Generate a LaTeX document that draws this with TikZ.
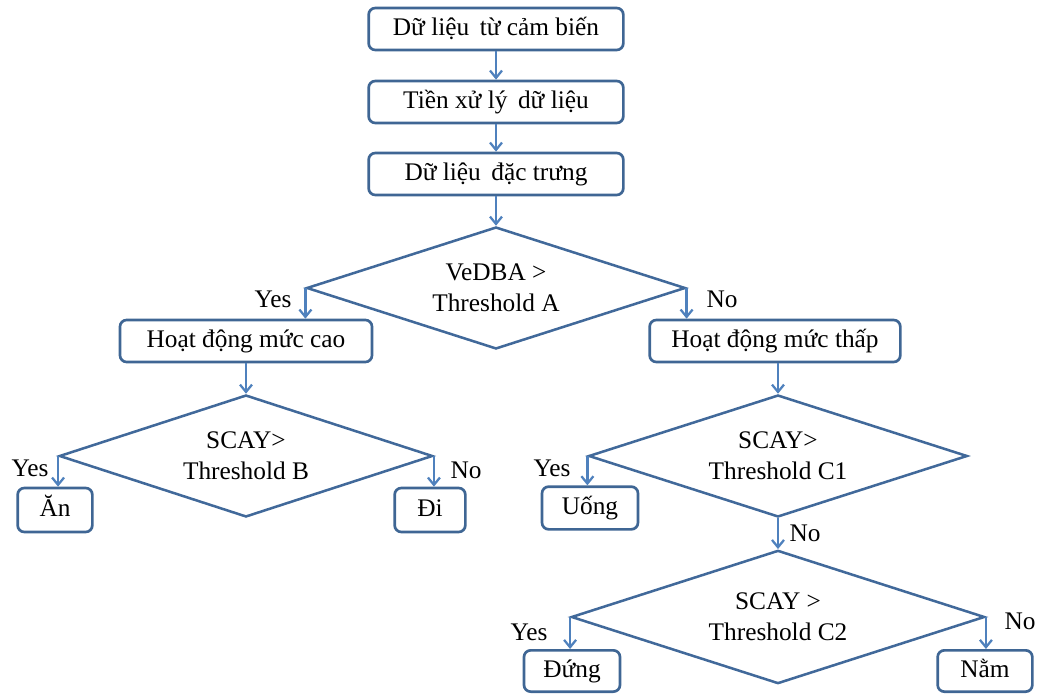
\documentclass[tikz,border=0pt]{standalone}
\usepackage{fontspec}
\setmainfont{Liberation Serif}
\usetikzlibrary{
  positioning,
  shapes.geometric,
  arrows.meta,
}
\definecolor{border}{HTML}{3F6694}
\definecolor{lineCol}{HTML}{41699A}
\definecolor{arrowCol}{HTML}{4F81BD}
\tikzset{
  stepbox/.style={
    rectangle, rounded corners=5pt, draw=border, line width=2pt,
    minimum height=31.5pt, align=center, inner sep=0pt,
    text height=13pt, text depth=3pt,
    font=\fontsize{19}{22}\selectfont,
  },
  decision/.style={
    diamond, aspect=3, draw=lineCol, line width=1.9pt, inner sep=0pt,
    align=center, font=\fontsize{19}{23}\selectfont,
  },
  arrow/.style={-{Straight Barb[length=5.5pt,width=9pt]}, arrowCol, line width=1.7pt},
  label/.style={font=\fontsize{19}{22}\selectfont, inner sep=0pt},
}

\begin{document}
\begin{tikzpicture}[x=0.75pt, y=-0.75pt]

  \useasboundingbox (0,0) rectangle (1043,695);

  % Steps
  \node[stepbox, minimum width=191pt] (s1) at (496, 29) {Dữ liệu\, từ cảm biến};
  \node[stepbox, minimum width=191pt] (s2) at (496, 102) {Tiền xử lý\, dữ liệu};
  \node[stepbox, minimum width=191pt] (s3) at (496, 174) {Dữ liệu\, đặc trưng};

  \draw[arrow] (s1) -- (s2);
  \draw[arrow] (s2) -- (s3);

  % Decisions
  \node[decision, minimum width=284pt, minimum height=91.5pt] (dA) at (496, 288) {VeDBA >\\Threshold A};
  \node[decision, minimum width=280pt, minimum height=91.5pt] (dB) at (246, 456) {SCAY>\\Threshold B};
  \node[decision, minimum width=284pt, minimum height=91.5pt] (dC1) at (778, 456) {SCAY>\\Threshold C1};
  \node[decision, minimum width=310pt, minimum height=100pt] (dC2) at (778, 617) {SCAY >\\Threshold C2};

  \draw[arrow] (s3) -- (dA);

  % Activity levels
  \node[stepbox, minimum width=189pt] (high) at (246, 341) {Hoạt động mức cao};
  \node[stepbox, minimum width=188pt] (low) at (775, 341) {Hoạt động mức thấp};

  \draw[arrow] (dA.west) -- (dA.west |- high.north);
  \draw[arrow] (dA.east) -- (dA.east |- low.north);
  \draw[arrow] (high) -- (dB);
  \draw[arrow] (low.south -| dC1.north) -- (dC1);

  % Behaviours
  \node[stepbox, minimum width=56pt, minimum height=33pt] (an) at (55, 510) {Ăn};
  \node[stepbox, minimum width=53pt, minimum height=33pt] (di) at (430, 510) {Đi};
  \node[stepbox, minimum width=72pt, minimum height=32pt] (uong) at (590, 508) {Uống};
  \node[stepbox, minimum width=72pt, minimum height=31pt] (dung) at (572, 671) {Đứng};
  \node[stepbox, minimum width=71pt, minimum height=31pt] (nam) at (985, 671) {Nằm};

  \draw[arrow] (dB.west) -- (dB.west |- an.north);
  \draw[arrow] (dB.east) -- (dB.east |- di.north);
  \draw[arrow] (dC1.west) -- (dC1.west |- uong.north);
  \draw[arrow] (dC1) -- (dC2);
  \draw[arrow] (dC2.west) -- (dC2.west |- dung.north);
  \draw[arrow] (dC2.east) -- (dC2.east |- nam.north);

  % Yes / No
  \node[label] (yA) at (273, 299) {Yes};
  \node[label] (nA) at (722, 299) {No};
  \node[label] (yB) at (30, 468) {Yes};
  \node[label] (nB) at (466, 470) {No};
  \node[label] (yC1) at (552, 468) {Yes};
  \node[label] (nC1) at (805, 533) {No};
  \node[label] (yC2) at (529, 632) {Yes};
  \node[label] (nC2) at (1020, 621) {No};

\end{tikzpicture}
\end{document}
